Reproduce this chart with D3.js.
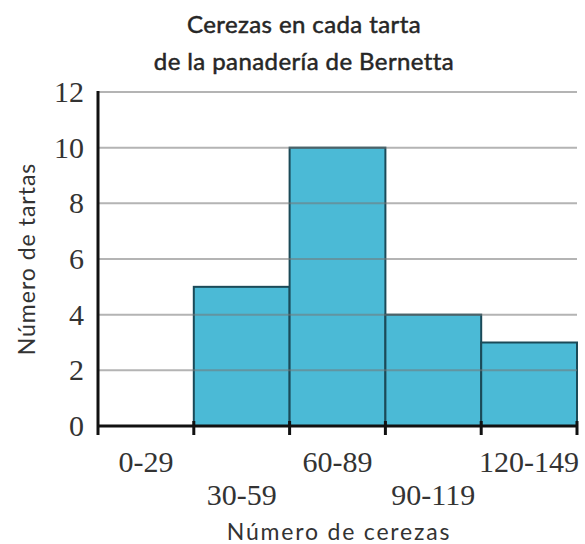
<!DOCTYPE html>
<html>
<head>
<meta charset="utf-8">
<title>Cerezas en cada tarta</title>
<script src="https://cdn.jsdelivr.net/npm/d3@7"></script>
<style>
	body { margin: 0; background: #fff; }
</style>
</head>
<body>
<div id="chart"></div>
<script>
	const bins = ["0-29", "30-59", "60-89", "90-119", "120-149"];
	const counts = [0, 5, 10, 4, 3];
	const yTicks = [0, 2, 4, 6, 8, 10, 12];
	const titleLines = ["Cerezas en cada tarta", "de la panadería de Bernetta"];

	const width = 585, height = 544;
	const plotLeft = 98, plotRight = 577, plotTop = 92, plotBottom = 426;

	const svg = d3.select("#chart").append("svg")
		.attr("width", width)
		.attr("height", height);

	const x = d3.scaleBand().domain(bins).range([plotLeft, plotRight]).padding(0);
	const y = d3.scaleLinear().domain([0, 12]).range([plotBottom, plotTop]);

	// titulo (peso medio: regular con un trazo fino)
	svg.append("g").selectAll("text")
		.data(titleLines)
		.join("text")
		.attr("x", 304)
		.attr("y", (d, i) => 33 + i * 37)
		.attr("text-anchor", "middle")
		.attr("font-family", "Lato, sans-serif")
		.attr("font-size", 24)
		.attr("letter-spacing", 0.4)
		.attr("fill", "#262626")
		.attr("stroke", "#262626")
		.attr("stroke-width", 0.5)
		.text(d => d);

	// barras
	svg.append("g").selectAll("rect")
		.data(bins.map((b, i) => ({bin: b, n: counts[i]})).filter(d => d.n > 0))
		.join("rect")
		.attr("x", d => x(d.bin))
		.attr("y", d => y(d.n))
		.attr("width", x.bandwidth())
		.attr("height", d => y(0) - y(d.n))
		.attr("fill", "#4bbad6")
		.attr("stroke", "#1b4a58")
		.attr("stroke-width", 2);

	// lineas de cuadricula (se ven un poco a traves de las barras)
	svg.append("g").selectAll("line")
		.data(yTicks.filter(t => t > 0))
		.join("line")
		.attr("x1", plotLeft)
		.attr("x2", plotRight)
		.attr("y1", d => y(d))
		.attr("y2", d => y(d))
		.attr("stroke", "#777")
		.attr("stroke-opacity", 0.55)
		.attr("stroke-width", 2);

	// eje y
	const yAxis = svg.append("g")
		.attr("transform", `translate(${plotLeft},0)`)
		.call(d3.axisLeft(y).tickValues(yTicks).tickSize(0).tickPadding(14));
	yAxis.select(".domain").remove();
	yAxis.selectAll("text")
		.attr("font-family", "'Liberation Serif', serif")
		.attr("font-size", 30)
		.attr("fill", "#333");
	svg.append("line")
		.attr("x1", plotLeft).attr("x2", plotLeft)
		.attr("y1", plotTop - 1).attr("y2", plotBottom + 9)
		.attr("stroke", "#111").attr("stroke-width", 3);

	// eje x
	const edges = bins.map(b => x(b)).concat([plotRight]);
	svg.append("line")
		.attr("x1", plotLeft).attr("x2", plotRight)
		.attr("y1", plotBottom).attr("y2", plotBottom)
		.attr("stroke", "#111").attr("stroke-width", 3);
	svg.append("g").selectAll("line")
		.data(edges.slice(1))
		.join("line")
		.attr("x1", d => d).attr("x2", d => d)
		.attr("y1", plotBottom - 5).attr("y2", plotBottom + 9)
		.attr("stroke", "#111").attr("stroke-width", 3);

	svg.append("g").selectAll("text")
		.data(bins)
		.join("text")
		.attr("x", d => x(d) + x.bandwidth() / 2)
		.attr("y", (d, i) => i % 2 == 0 ? 472 : 505)
		.attr("text-anchor", "middle")
		.attr("font-family", "'Liberation Serif', serif")
		.attr("font-size", 30)
		.attr("fill", "#333")
		.text(d => d);

	// titulos de ejes
	svg.append("text")
		.attr("x", 339)
		.attr("y", 540)
		.attr("text-anchor", "middle")
		.attr("font-family", "Lato, sans-serif")
		.attr("font-size", 23)
		.attr("letter-spacing", 1.8)
		.attr("fill", "#333")
		.text("Número de cerezas");

	svg.append("text")
		.attr("transform", `translate(35,${(plotTop + plotBottom) / 2}) rotate(-90)`)
		.attr("text-anchor", "middle")
		.attr("font-family", "Lato, sans-serif")
		.attr("font-size", 23)
		.attr("letter-spacing", 1)
		.attr("fill", "#333")
		.text("Número de tartas");
</script>
</body>
</html>
